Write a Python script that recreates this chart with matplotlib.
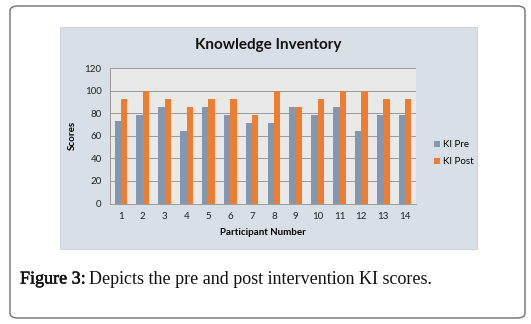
import matplotlib
matplotlib.use("Agg")
import matplotlib.pyplot as plt
import numpy as np
from matplotlib.patches import FancyBboxPatch, Rectangle
import matplotlib.patheffects as pe

participants = [str(i) for i in range(1, 15)]
ki_pre = [72.7, 78.6, 85.7, 64.3, 85.7, 78.6, 71.4, 71.4, 85.7, 78.6, 85.7, 64.3, 78.6, 78.6]
ki_post = [92.9, 100, 92.9, 85.7, 92.9, 92.9, 78.6, 100, 85.7, 92.9, 100, 100, 92.9, 92.9]
y_ticks = [0, 20, 40, 60, 80, 100, 120]

plt.rcParams['font.family'] = ['Lato', 'DejaVu Sans']

W, H = 531, 324
fig = plt.figure(figsize=(W / 100, H / 100), dpi=100)
fig.patch.set_facecolor("white")

# outer rounded caption box
box = FancyBboxPatch((10 / W, 6 / H), (525 - 10) / W, (318 - 6) / H,
                     boxstyle="round,pad=0,rounding_size=0.015",
                     transform=fig.transFigure, facecolor="white",
                     edgecolor="#6e6e6e", linewidth=1.0, zorder=-20)
fig.patches.append(box)

# chart panel background
panel = Rectangle((60 / W, 1 - 249 / H), (477 - 60) / W, (249 - 27) / H,
                  transform=fig.transFigure, facecolor="#d8dfe7",
                  edgecolor="#c8cfd6", linewidth=0.6, zorder=-10)
fig.patches.append(panel)

left, right, top, bottom = 110, 416, 68, 203.5
ax = fig.add_axes([left / W, 1 - bottom / H, (right - left) / W, (bottom - top) / H])
ax.set_facecolor("#e9e9e9")

x = np.arange(len(participants))
w = 0.29
ax.bar(x - w / 2, ki_pre, width=w, color="#8497b0", label="KI Pre", zorder=3)
ax.bar(x + w / 2, ki_post, width=w, color="#ed7d31", label="KI Post", zorder=3)

ax.set_xlim(-0.5, len(participants) - 0.5)
ax.set_ylim(0, 120)
ax.set_yticks(y_ticks)
ax.set_xticks(x)
ax.set_xticklabels(participants)
ax.grid(axis="y", color="#9a9a9a", linewidth=0.7, zorder=0)
ax.set_axisbelow(True)
for s in ["top", "right"]:
    ax.spines[s].set_visible(False)
ax.spines["left"].set_color("#9a9a9a")
ax.spines["bottom"].set_color("#9a9a9a")
ax.spines["left"].set_linewidth(0.7)
ax.spines["bottom"].set_linewidth(0.7)
ax.tick_params(axis="both", length=0, labelsize=7, colors="#222222", pad=6)
ax.tick_params(axis="y", pad=6)

ax.set_ylabel("Scores", fontsize=7, fontweight="bold", labelpad=6)
ax.set_xlabel("Participant Number", fontsize=7, fontweight="bold", labelpad=5)

fig.text(268 / W, 1 - 45 / H, "Knowledge Inventory", ha="center", va="center",
         fontsize=11, fontweight="bold", color="#111111")

ax.legend(loc="center left", bbox_to_anchor=(1.03, 0.37), frameon=False,
          fontsize=7, handlelength=0.6, handleheight=0.6, handletextpad=0.3,
          labelspacing=0.8)

fig.text(20 / W, 1 - 279 / H, "Figure 3:", ha="left", va="center",
         fontsize=13, family="Liberation Serif", color="#111111",
         path_effects=[pe.withStroke(linewidth=0.35, foreground="#111111")])
fig.text(89 / W, 1 - 279 / H, "Depicts the pre and post intervention KI scores.",
         ha="left", va="center", fontsize=13, family="Liberation Serif", color="#111111")

fig.savefig("out.png", dpi=100)
